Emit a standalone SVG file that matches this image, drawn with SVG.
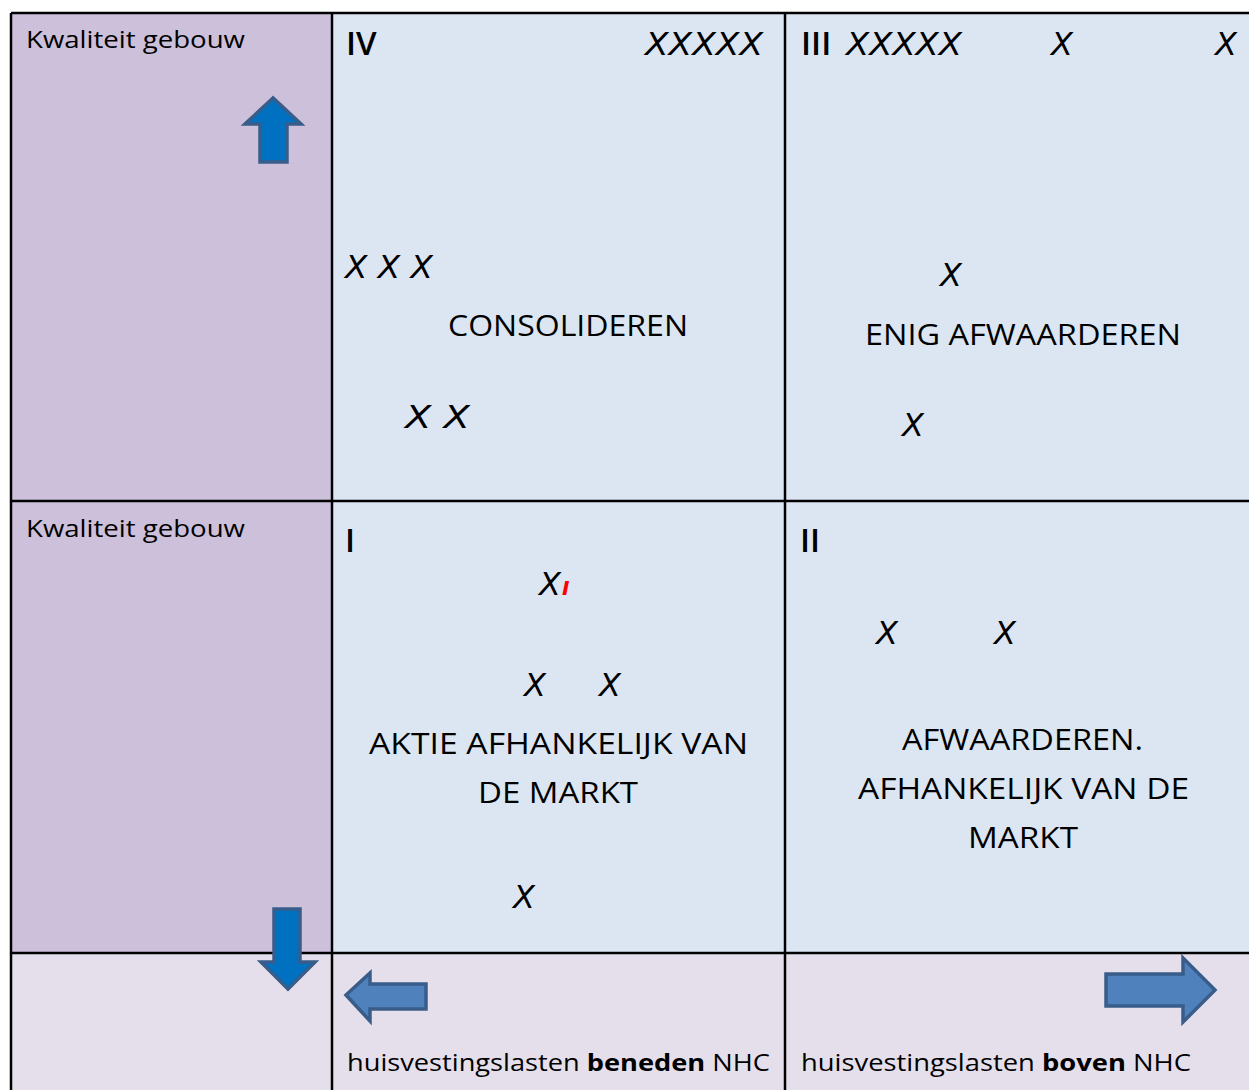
<svg xmlns="http://www.w3.org/2000/svg" width="1249" height="1090" viewBox="0 0 1249 1090">
<style>
.t{font-family:"Open Sans","Noto Sans","DejaVu Sans",sans-serif;fill:#000}
.lab{font-size:24px}
.big{font-size:30px}
.num{font-size:33px;font-weight:600}
.x{font-family:"DejaVu Sans","Noto Sans",sans-serif;font-style:italic;font-size:32px;fill:#000}
.ar1{fill:#0070C0;stroke:#385D8A;stroke-width:3.5;stroke-linejoin:miter}
.ar2{fill:#4F81BD;stroke:#385D8A;stroke-width:3.5;stroke-linejoin:miter}
.grid{stroke:#000;stroke-width:2.5;fill:none}
</style>
<rect width="1249" height="1090" fill="#fff"/>
<g id="cells">
<rect x="11" y="13" width="321" height="940" fill="#CCC0DA"/>
<rect x="332" y="13" width="917" height="940" fill="#DCE6F2"/>
<rect x="11" y="953" width="1238" height="137" fill="#E5DFEC"/>
</g>
<g id="connectors">
<path class="grid" d="M11 13H1249M11 501H1249M11 953H1249M11 13V1090M332 13V1090M785 13V1090"/>
</g>
<g id="left-top">
<text class="t lab" x="26" y="48" textLength="219" lengthAdjust="spacingAndGlyphs">Kwaliteit gebouw</text>
<path id="arrow-up" class="ar1" d="M273 98L245 124H260V162H287V124H301Z"/>
</g>
<g id="left-bottom">
<text class="t lab" x="26" y="537" textLength="219" lengthAdjust="spacingAndGlyphs">Kwaliteit gebouw</text>
<path id="arrow-down" class="ar1" d="M274 909H300V962H315L288 989L261 962H274Z"/>
</g>
<g id="quadrant-IV">
<text class="t num" x="346" y="55">IV</text>
<text class="x" x="645" y="55" textLength="118" lengthAdjust="spacingAndGlyphs">XXXXX</text>
<text class="x" x="345" y="278" textLength="88" lengthAdjust="spacingAndGlyphs">X X X</text>
<text class="t big" x="448" y="336" textLength="240" lengthAdjust="spacingAndGlyphs">CONSOLIDEREN</text>
<text class="x" x="405" y="428" textLength="65" lengthAdjust="spacingAndGlyphs">X X</text>
</g>
<g id="quadrant-III">
<text class="t num" x="801" y="55">III</text>
<text class="x" x="846" y="55" textLength="116" lengthAdjust="spacingAndGlyphs">XXXXX</text>
<text class="x" x="1051" y="55">X</text>
<text class="x" x="1215" y="55">X</text>
<text class="x" x="940" y="286">X</text>
<text class="t big" x="865" y="345" textLength="316" lengthAdjust="spacingAndGlyphs">ENIG AFWAARDEREN</text>
<text class="x" x="902" y="436">X</text>
</g>
<g id="quadrant-I">
<text class="t num" x="345" y="552">I</text>
<text class="x" x="539" y="595">X</text>
<text x="562" y="595" font-family="DejaVu Sans,sans-serif" font-style="italic" font-size="20" font-weight="bold" fill="#FF0000">I</text>
<text class="x" x="524" y="696">X</text>
<text class="x" x="599" y="696">X</text>
<text class="t big" x="369" y="754" textLength="379" lengthAdjust="spacingAndGlyphs">AKTIE AFHANKELIJK VAN</text>
<text class="t big" x="478" y="803" textLength="160" lengthAdjust="spacingAndGlyphs">DE MARKT</text>
<text class="x" x="513" y="908">X</text>
</g>
<g id="quadrant-II">
<text class="t num" x="800" y="552">II</text>
<text class="x" x="876" y="644">X</text>
<text class="x" x="994" y="644">X</text>
<text class="t big" x="902" y="750" textLength="241" lengthAdjust="spacingAndGlyphs">AFWAARDEREN.</text>
<text class="t big" x="858" y="799" textLength="331" lengthAdjust="spacingAndGlyphs">AFHANKELIJK VAN DE</text>
<text class="t big" x="968" y="848" textLength="110" lengthAdjust="spacingAndGlyphs">MARKT</text>
</g>
<g id="bottom-left">
<path id="arrow-left" class="ar2" d="M346 995L370 973V984H426V1009H370V1021Z"/>
<text class="t lab" x="347" y="1071" textLength="423" lengthAdjust="spacingAndGlyphs">huisvestingslasten <tspan font-weight="bold">beneden</tspan> NHC</text>
</g>
<g id="bottom-right">
<path id="arrow-right" class="ar2" d="M1106 974H1183V958L1215 990L1183 1022V1006H1106Z"/>
<text class="t lab" x="801" y="1071" textLength="390" lengthAdjust="spacingAndGlyphs">huisvestingslasten <tspan font-weight="bold">boven</tspan> NHC</text>
</g>
</svg>
